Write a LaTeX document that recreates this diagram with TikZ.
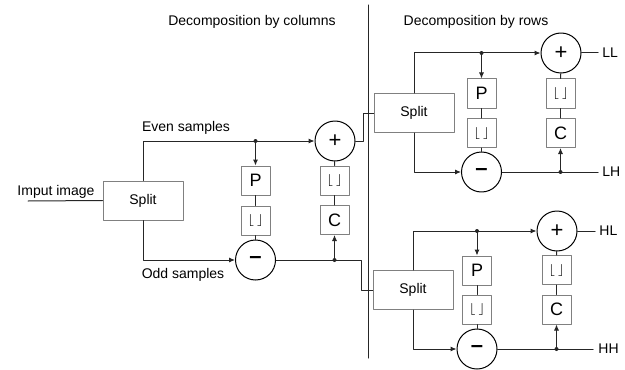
\documentclass[tikz,border=0pt]{standalone}
\usepackage{fontspec}
\setmainfont{Liberation Sans}
\usepackage{tikz}
\usetikzlibrary{arrows.meta}
\usetikzlibrary{positioning}
\definecolor{boxgray}{rgb}{0.5, 0.5, 0.5}
\tikzset{
  splitbox/.style={draw=boxgray, line width=0.5pt, minimum width=40pt, minimum height=19.5pt, inner sep=0pt, font=\fontsize{7}{8}\selectfont},
  opbox/.style={draw=boxgray, line width=0.5pt, minimum size=14.5pt, inner sep=0pt, font=\fontsize{9}{10}\selectfont},
  flbox/.style={draw=boxgray, line width=0.5pt, minimum size=14.5pt, inner sep=0pt, font=\fontsize{6}{7}\selectfont},
  sumnode/.style={circle, draw=black, line width=0.5pt, minimum size=20pt, inner sep=0pt, font=\fontsize{11}{12}\selectfont},
  lbl/.style={font=\fontsize{7}{8}\selectfont, inner sep=0pt},
  link/.style={line width=0.5pt, draw=black!85},
  arr/.style={link, -{Latex[length=3pt, width=2.6pt]}},
  joint/.style={fill=black!85}
}
\newcommand{\flr}{$\lfloor\,\rfloor$}
\newcommand{\mns}{\textbf{–}}
\begin{document}
\begin{tikzpicture}[line cap=round, line join=round, x=0.5pt, y=-0.5pt]
\useasboundingbox (0,0) rectangle (625,369);
% titles and divider
\node[lbl] (titcol) at (252,22) {Decomposition by columns};
\node[lbl] (titrow) at (476,22) {Decomposition by rows};
\coordinate (divtop) at (368,5);
\coordinate (divbot) at (368,358);
\draw[link] (divtop) -- (divbot);
% decomposition by columns
\node[splitbox] (splitA) at (143,200.5) {Split};
\node[sumnode] (sumA) at (335,141) {+};
\node[opbox] (pA) at (255.5,180.5) {P};
\node[flbox] (flA) at (255.5,220.5) {\flr};
\node[sumnode] (difA) at (255.5,260) {\mns};
\node[flbox] (flB) at (334.5,180.5) {\flr};
\node[opbox] (cA) at (334.5,220) {C};
\coordinate (inA) at (28,201);
\coordinate (dotA) at (255.5,141);
\coordinate (dotB) at (334.5,260);
\coordinate (jogA) at (363,141);
\coordinate (jogB) at (361,260);
\node[lbl] (inlbl) at (56,192) {Imput image};
\node[lbl] (evenlbl) at (186,128) {Even samples};
\node[lbl] (oddlbl) at (183,275) {Odd samples};
\draw[link] (inA) -- (splitA.west);
\draw[arr] (splitA.north) |- (sumA.west);
\draw[arr] (splitA.south) |- (difA.west);
\draw[arr] (dotA) -- (pA.north);
\draw[link] (pA) -- (flA);
\draw[link] (flA) -- (difA);
\draw[arr] (dotB) -- (cA.south);
\draw[link] (cA) -- (flB);
\draw[link] (flB) -- (sumA);
\fill[joint] (dotA) circle (1pt);
\fill[joint] (dotB) circle (1pt);
% decomposition by rows, low band
\node[splitbox] (splitB) at (414,113) {Split};
\node[sumnode] (sumB) at (561,53) {+};
\node[opbox] (pB) at (481.5,93.5) {P};
\node[flbox] (flC) at (481.5,133) {\flr};
\node[sumnode] (difB) at (481.5,172) {\mns};
\node[flbox] (flD) at (560.5,93.5) {\flr};
\node[opbox] (cB) at (560.5,133) {C};
\coordinate (dotC) at (481.5,53);
\coordinate (dotD) at (560.5,172);
\coordinate (outLL) at (598,53);
\coordinate (outLH) at (598,172);
\node[lbl, anchor=west] (lblLL) at (602,53) {LL};
\node[lbl, anchor=west] (lblLH) at (602,172) {LH};
\draw[link] (sumA.east) -- (jogA) |- (splitB.west);
\draw[arr] (splitB.north) |- (sumB.west);
\draw[arr] (splitB.south) |- (difB.west);
\draw[arr] (dotC) -- (pB.north);
\draw[link] (pB) -- (flC);
\draw[link] (flC) -- (difB);
\draw[arr] (dotD) -- (cB.south);
\draw[link] (cB) -- (flD);
\draw[link] (flD) -- (sumB);
\draw[link] (sumB.east) -- (outLL);
\draw[link] (difB.east) -- (outLH);
\fill[joint] (dotC) circle (1pt);
\fill[joint] (dotD) circle (1pt);
% decomposition by rows, high band
\node[splitbox] (splitC) at (413,290) {Split};
\node[sumnode] (sumC) at (557,231) {+};
\node[opbox] (pC) at (477,270.5) {P};
\node[flbox] (flE) at (477,309.5) {\flr};
\node[sumnode] (difC) at (477,349) {\mns};
\node[flbox] (flF) at (556.5,270) {\flr};
\node[opbox] (cC) at (556.5,309.5) {C};
\coordinate (dotE) at (477,231);
\coordinate (dotF) at (556.5,349);
\coordinate (outHL) at (595,231);
\coordinate (outHH) at (593,349);
\node[lbl, anchor=west] (lblHL) at (599,231) {HL};
\node[lbl, anchor=west] (lblHH) at (598,349) {HH};
\draw[link] (difA.east) -- (jogB) |- (splitC.west);
\draw[arr] (splitC.north) |- (sumC.west);
\draw[arr] (splitC.south) |- (difC.west);
\draw[arr] (dotE) -- (pC.north);
\draw[link] (pC) -- (flE);
\draw[link] (flE) -- (difC);
\draw[arr] (dotF) -- (cC.south);
\draw[link] (cC) -- (flF);
\draw[link] (flF) -- (sumC);
\draw[link] (sumC.east) -- (outHL);
\draw[link] (difC.east) -- (outHH);
\fill[joint] (dotE) circle (1pt);
\fill[joint] (dotF) circle (1pt);
\end{tikzpicture}
\end{document}
